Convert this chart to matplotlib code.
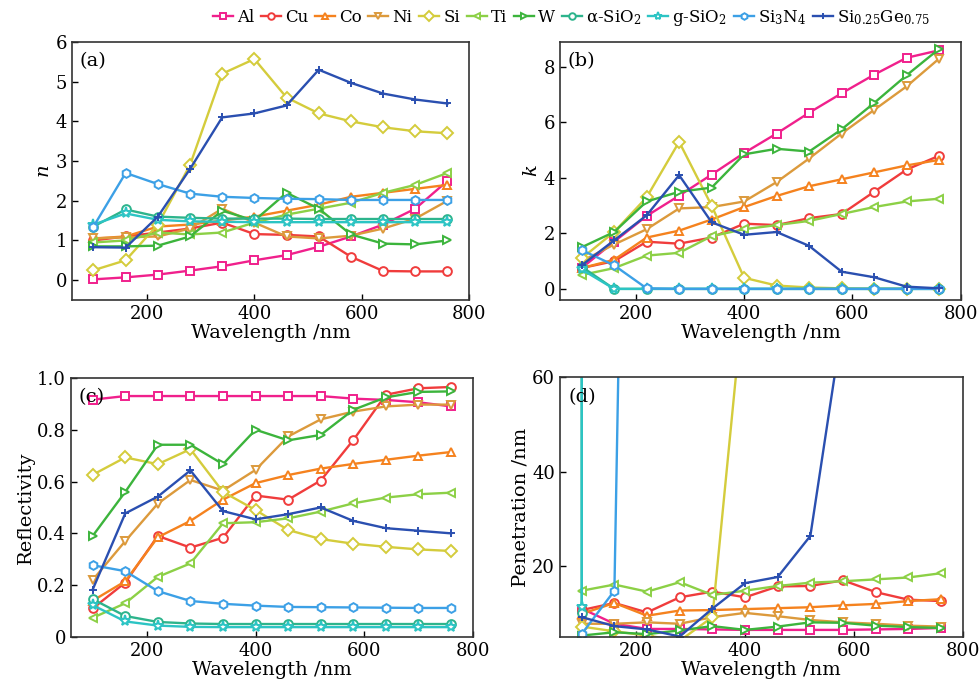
import numpy as np
import matplotlib
matplotlib.use("Agg")
import matplotlib.pyplot as plt

plt.rcParams['font.family'] = ['DejaVu Serif']
plt.rcParams['mathtext.fontset'] = 'dejavuserif'

wl = [100, 160, 220, 280, 340, 400, 460, 520, 580, 640, 700, 760]

names = ['Al', 'Cu', 'Co', 'Ni', 'Si', 'Ti', 'W', 'α-SiO$_2$', 'g-SiO$_2$',
         'Si$_3$N$_4$', 'Si$_{0.25}$Ge$_{0.75}$']
colors = ['#f0208c', '#f03c3c', '#f5821e', '#dc9a3c', '#d4cc3c', '#8cd046',
          '#3cb43c', '#2db48c', '#2cc4c4', '#3ca0e6', '#2a4fb0']
markers = ['s', 'o', '^', 'v', 'D', '<', '>', 'o', '*', 'h', '+']

# refractive index n
n_al = [0.02, 0.07, 0.14, 0.24, 0.35, 0.5, 0.63, 0.84, 1.1, 1.4, 1.8, 2.5]
n_cu = [1.0, 1.1, 1.2, 1.3, 1.45, 1.16, 1.14, 1.1, 0.59, 0.23, 0.22, 0.22]
n_co = [1.05, 1.1, 1.35, 1.4, 1.5, 1.6, 1.75, 1.9, 2.1, 2.2, 2.3, 2.4]
n_ni = [1.05, 1.08, 1.1, 1.3, 1.8, 1.45, 1.1, 1.05, 1.12, 1.3, 1.55, 2.0]
n_si = [0.25, 0.5, 1.4, 2.9, 5.2, 5.57, 4.6, 4.2, 4.0, 3.85, 3.75, 3.7]
n_ti = [0.95, 1.0, 1.2, 1.15, 1.2, 1.45, 1.65, 1.8, 1.95, 2.2, 2.4, 2.7]
n_w = [0.85, 0.85, 0.87, 1.1, 1.75, 1.5, 2.2, 1.8, 1.15, 0.92, 0.9, 1.0]
n_asio2 = [1.35, 1.78, 1.6, 1.57, 1.55, 1.55, 1.55, 1.54, 1.54, 1.54, 1.54, 1.54]
n_gsio2 = [1.4, 1.68, 1.52, 1.48, 1.47, 1.46, 1.46, 1.46, 1.46, 1.46, 1.46, 1.46]
n_si3n4 = [1.35, 2.7, 2.42, 2.18, 2.1, 2.07, 2.05, 2.04, 2.02, 2.02, 2.02, 2.02]
n_sige = [0.83, 0.82, 1.6, 2.8, 4.1, 4.2, 4.4, 5.3, 4.97, 4.7, 4.55, 4.45]

# extinction coefficient k
k_al = [0.75, 1.7, 2.63, 3.36, 4.12, 4.9, 5.6, 6.35, 7.05, 7.72, 8.33, 8.6]
k_cu = [0.75, 1.0, 1.7, 1.63, 1.85, 2.35, 2.3, 2.55, 2.7, 3.5, 4.3, 4.8]
k_co = [0.75, 1.05, 1.85, 2.1, 2.5, 2.95, 3.35, 3.7, 3.95, 4.2, 4.45, 4.65]
k_ni = [1.0, 1.6, 2.15, 2.9, 2.95, 3.15, 3.85, 4.7, 5.6, 6.45, 7.3, 8.3]
k_si = [1.1, 2.05, 3.3, 5.3, 3.0, 0.4, 0.12, 0.05, 0.02, 0.01, 0.01, 0.01]
k_ti = [0.5, 0.75, 1.2, 1.3, 1.9, 2.15, 2.3, 2.45, 2.7, 2.95, 3.15, 3.25]
k_w = [1.5, 2.05, 3.15, 3.5, 3.65, 4.85, 5.05, 4.95, 5.75, 6.7, 7.7, 8.65]
k_asio2 = [0.8, 0.0, 0.0, 0.0, 0.0, 0.0, 0.0, 0.0, 0.0, 0.0, 0.0, 0.0]
k_gsio2 = [0.7, 0.0, 0.0, 0.0, 0.0, 0.0, 0.0, 0.0, 0.0, 0.0, 0.0, 0.0]
k_si3n4 = [1.4, 0.85, 0.02, 0.0, 0.0, 0.0, 0.0, 0.0, 0.0, 0.0, 0.0, 0.0]
k_sige = [0.85, 1.75, 2.65, 4.1, 2.4, 1.95, 2.05, 1.55, 0.62, 0.42, 0.08, 0.02]

# reflectivity
r_al = [0.916, 0.93, 0.93, 0.93, 0.93, 0.93, 0.93, 0.93, 0.92, 0.915, 0.906, 0.89]
r_cu = [0.11, 0.21, 0.39, 0.345, 0.383, 0.546, 0.53, 0.604, 0.76, 0.935, 0.96, 0.965]
r_co = [0.14, 0.215, 0.385, 0.448, 0.53, 0.594, 0.625, 0.65, 0.668, 0.684, 0.70, 0.714]
r_ni = [0.22, 0.37, 0.515, 0.606, 0.565, 0.645, 0.774, 0.84, 0.87, 0.89, 0.897, 0.897]
r_si = [0.626, 0.693, 0.667, 0.725, 0.56, 0.49, 0.413, 0.378, 0.36, 0.348, 0.338, 0.332]
r_ti = [0.074, 0.13, 0.232, 0.284, 0.439, 0.443, 0.458, 0.484, 0.516, 0.538, 0.551, 0.557]
r_w = [0.39, 0.56, 0.742, 0.742, 0.667, 0.80, 0.759, 0.78, 0.877, 0.925, 0.946, 0.948]
r_asio2 = [0.146, 0.081, 0.058, 0.052, 0.05, 0.05, 0.05, 0.05, 0.05, 0.05, 0.05, 0.05]
r_gsio2 = [0.123, 0.06, 0.044, 0.039, 0.038, 0.038, 0.038, 0.038, 0.038, 0.038, 0.038, 0.038]
r_si3n4 = [0.277, 0.254, 0.177, 0.139, 0.128, 0.121, 0.116, 0.115, 0.114, 0.113, 0.112, 0.112]
r_sige = [0.183, 0.477, 0.542, 0.643, 0.486, 0.454, 0.474, 0.50, 0.448, 0.42, 0.41, 0.40]

# penetration depth /nm (off-scale values are just large)
p_al = [11.0, 7.8, 6.7, 6.7, 6.6, 6.5, 6.5, 6.5, 6.5, 6.6, 6.7, 6.9]
p_cu = [10.7, 12.2, 10.2, 13.4, 14.6, 13.4, 15.7, 15.8, 17.0, 14.5, 12.9, 12.6]
p_co = [9.9, 12.2, 9.5, 10.6, 10.7, 10.9, 11.1, 11.3, 11.7, 12.0, 12.6, 13.0]
p_ni = [7.8, 7.8, 8.1, 7.8, 9.2, 10.1, 9.4, 8.6, 8.1, 7.8, 7.4, 7.2]
p_si = [7.2, 6.2, 5.3, 4.2, 9.2, 80.0, 305.0, 830.0, 2300.0, 5100.0, 5600.0, 6000.0]
p_ti = [14.8, 16.1, 14.6, 16.6, 13.9, 14.8, 15.8, 16.5, 16.8, 17.2, 17.6, 18.5]
p_w = [5.3, 6.0, 5.6, 6.4, 7.3, 6.5, 7.2, 8.1, 8.0, 7.4, 7.1, 6.9]
p_asio2 = [10.0, 1e6, 1e6, 1e6, 1e6, 1e6, 1e6, 1e6, 1e6, 1e6, 1e6, 1e6]
p_gsio2 = [11.4, 1e6, 1e6, 1e6, 1e6, 1e6, 1e6, 1e6, 1e6, 1e6, 1e6, 1e6]
p_si3n4 = [5.65, 14.8, 400.0, 1e5, 1e5, 1e5, 1e5, 1e5, 1e5, 1e5, 1e5, 1e5]
p_sige = [9.2, 7.3, 6.6, 5.1, 11.0, 16.4, 17.7, 26.4, 72.0, 121.0, 700.0, 3000.0]

n_all = [n_al, n_cu, n_co, n_ni, n_si, n_ti, n_w, n_asio2, n_gsio2, n_si3n4, n_sige]
k_all = [k_al, k_cu, k_co, k_ni, k_si, k_ti, k_w, k_asio2, k_gsio2, k_si3n4, k_sige]
r_all = [r_al, r_cu, r_co, r_ni, r_si, r_ti, r_w, r_asio2, r_gsio2, r_si3n4, r_sige]
p_all = [p_al, p_cu, p_co, p_ni, p_si, p_ti, p_w, p_asio2, p_gsio2, p_si3n4, p_sige]

fig = plt.figure(figsize=(9.8, 6.89), dpi=100)

panels = [
    # data, rect, label, ylabel, ylim, yticks
    (n_all, [0.0735, 0.5646, 0.405, 0.3745], '(a)', '$n$', (-0.5, 6), [0, 1, 2, 3, 4, 5, 6]),
    (k_all, [0.5714, 0.5646, 0.409, 0.3745], '(b)', '$k$', (-0.4, 8.9), [0, 2, 4, 6, 8]),
    (r_all, [0.0724, 0.0755, 0.41, 0.376], '(c)', 'Reflectivity', (0, 1.0), [0, 0.2, 0.4, 0.6, 0.8, 1.0]),
    (p_all, [0.5714, 0.0755, 0.411, 0.377], '(d)', 'Penetration /nm', (5, 60), [20, 40, 60]),
]

handles = []
for data, rect, lab, ylab, ylim, yt in panels:
    ax = fig.add_axes(rect)
    hs = []
    for i in range(len(names)):
        h, = ax.plot(wl, data[i], color=colors[i], marker=markers[i], lw=1.7,
                     ms=8 if markers[i] == '*' else 6.3, mfc='white', mec=colors[i],
                     mew=1.4, label=names[i])
        hs.append(h)
    handles = hs
    ax.set_xlim(60, 800)
    ax.set_ylim(*ylim)
    ax.set_xticks([200, 400, 600, 800])
    ax.set_yticks(yt)
    if lab == '(c)':
        ax.set_yticklabels(['0', '0.2', '0.4', '0.6', '0.8', '1.0'])
    ax.tick_params(direction='in', length=4, width=1, labelsize=13, top=False, right=False)
    for s in ax.spines.values():
        s.set_linewidth(1.2)
        s.set_color('#333333')
    ax.set_xlabel('Wavelength /nm', fontsize=14, labelpad=1)
    ax.set_ylabel(ylab, fontsize=14, labelpad=2)
    ax.text(0.02, 0.96, lab, transform=ax.transAxes, fontsize=14, va='top', ha='left')

fig.legend(handles=handles, labels=names, loc='upper center', bbox_to_anchor=(0.583, 1.01),
           ncol=11, frameon=False, fontsize=12, handlelength=1.2, handletextpad=0.25,
           columnspacing=0.4, markerscale=0.75)

fig.savefig('out.png', dpi=100)
